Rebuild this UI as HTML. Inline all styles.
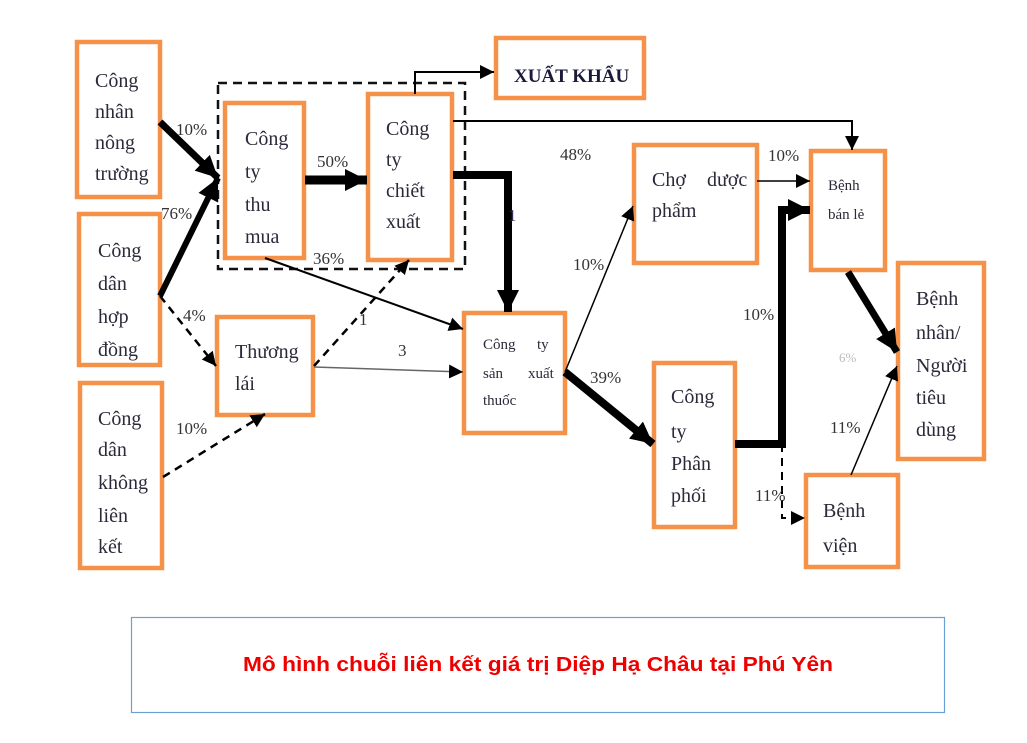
<!DOCTYPE html>
<html><head><meta charset="utf-8"><style>
html,body{margin:0;padding:0;background:#fff;}
svg{display:block;}
.t{font-family:"Liberation Serif",serif;font-size:20px;fill:#2a2a3a;}
.s{font-family:"Liberation Serif",serif;font-size:15px;fill:#2a2a3a;}
.p{font-family:"Liberation Serif",serif;font-size:17px;fill:#333;}
.b{fill:#fff;stroke:#f4924a;stroke-width:4.5;}
</style></head><body>
<svg width="1027" height="743" viewBox="0 0 1027 743" xmlns="http://www.w3.org/2000/svg">
<defs>
<marker id="a" markerUnits="userSpaceOnUse" markerWidth="20" markerHeight="20" refX="14" refY="7" orient="auto"><path d="M0,0 L14,7 L0,14 Z" fill="#000"/></marker>
<marker id="A" markerUnits="userSpaceOnUse" markerWidth="30" markerHeight="30" refX="22" refY="11" orient="auto"><path d="M0,0 L22,11 L0,22 Z" fill="#000"/></marker>
</defs>
<!-- dashed group -->
<rect x="218" y="83" width="247" height="186" fill="none" stroke="#111" stroke-width="2.5" stroke-dasharray="9,6"/>
<!-- boxes -->
<rect class="b" x="77" y="42" width="83" height="155"/>
<rect class="b" x="79" y="214" width="81" height="151"/>
<rect class="b" x="80" y="383" width="82" height="185"/>
<rect class="b" x="225" y="103" width="79" height="155"/>
<rect class="b" x="368" y="94" width="84" height="166"/>
<rect class="b" x="496" y="38" width="148" height="60"/>
<rect class="b" x="217" y="317" width="96" height="98"/>
<rect class="b" x="464" y="313" width="101" height="120"/>
<rect class="b" x="634" y="145" width="123" height="118"/>
<rect class="b" x="654" y="363" width="81" height="164"/>
<rect class="b" x="811" y="151" width="74" height="119"/>
<rect class="b" x="898" y="263" width="86" height="196"/>
<rect class="b" x="806" y="475" width="92" height="92"/>
<!-- connectors -->
<g fill="none" stroke="#000">
<line x1="160" y1="122" x2="218" y2="178" stroke-width="7" marker-end="url(#A)"/>
<line x1="160" y1="296" x2="218" y2="178" stroke-width="6" marker-end="url(#A)"/>
<line x1="160" y1="296" x2="216" y2="366" stroke-width="2.5" stroke-dasharray="8,6" marker-end="url(#a)"/>
<line x1="163" y1="477" x2="265" y2="414" stroke-width="2.5" stroke-dasharray="8,6" marker-end="url(#a)"/>
<line x1="305" y1="180" x2="367" y2="180" stroke-width="9" marker-end="url(#A)"/>
<line x1="265" y1="258" x2="463" y2="329" stroke-width="2" marker-end="url(#a)"/>
<line x1="314" y1="366" x2="409" y2="260" stroke-width="2.5" stroke-dasharray="8,6" marker-end="url(#a)"/>
<line x1="314" y1="367" x2="463" y2="372" stroke-width="1.5" stroke="#666" marker-end="url(#a)"/>
<polyline points="453,175 508,175 508,312" stroke-width="8" marker-end="url(#A)"/>
<polyline points="415,94 415,72 494,72" stroke-width="2" marker-end="url(#a)"/>
<polyline points="453,121 852,121 852,150" stroke-width="2" marker-end="url(#a)"/>
<line x1="565" y1="372" x2="633" y2="206" stroke-width="1.5" marker-end="url(#a)"/>
<line x1="565" y1="372" x2="653" y2="444" stroke-width="8" marker-end="url(#A)"/>
<polyline points="735,444 782,444 782,210 810,210" stroke-width="8" marker-end="url(#A)"/>
<polyline points="782,444 782,518 805,518" stroke-width="2" stroke-dasharray="8,6" marker-end="url(#a)"/>
<line x1="757" y1="181" x2="810" y2="181" stroke-width="1.5" marker-end="url(#a)"/>
<line x1="848" y1="272" x2="897" y2="352" stroke-width="7" marker-end="url(#A)"/>
<line x1="851" y1="475" x2="897" y2="366" stroke-width="1.5" marker-end="url(#a)"/>
</g>
<!-- box text -->
<g class="t">
<text x="95" y="87">Công</text><text x="95" y="118">nhân</text><text x="95" y="149">nông</text><text x="95" y="180">trường</text>
<text x="98" y="257">Công</text><text x="98" y="290">dân</text><text x="98" y="323">hợp</text><text x="98" y="356">đồng</text>
<text x="98" y="425">Công</text><text x="98" y="456">dân</text><text x="98" y="489">không</text><text x="98" y="522">liên</text><text x="98" y="553">kết</text>
<text x="245" y="145">Công</text><text x="245" y="178">ty</text><text x="245" y="211">thu</text><text x="245" y="243">mua</text>
<text x="386" y="135">Công</text><text x="386" y="166">ty</text><text x="386" y="197">chiết</text><text x="386" y="228">xuất</text>
<text x="235" y="358">Thương</text><text x="235" y="390">lái</text>
<text x="652" y="186">Chợ</text><text x="707" y="186">dược</text><text x="652" y="217">phẩm</text>
<text x="671" y="403">Công</text><text x="671" y="438">ty</text><text x="671" y="470">Phân</text><text x="671" y="502">phối</text>
<text x="916" y="305">Bệnh</text><text x="916" y="339">nhân/</text><text x="916" y="372">Người</text><text x="916" y="404">tiêu</text><text x="916" y="436">dùng</text>
<text x="823" y="517">Bệnh</text><text x="823" y="552">viện</text>
<text x="514" y="82" font-weight="bold" font-size="19" fill="#1a1a3a">XUẤT KHẨU</text>
</g>
<g class="s">
<text x="483" y="349">Công</text><text x="537" y="349">ty</text>
<text x="483" y="378">sản</text><text x="528" y="378">xuất</text>
<text x="483" y="405">thuốc</text>
<text x="828" y="190">Bệnh</text><text x="828" y="219">bán lẻ</text>
</g>
<!-- percent labels -->
<g class="p">
<text x="176" y="135">10%</text>
<text x="161" y="219">76%</text>
<text x="183" y="321">4%</text>
<text x="176" y="434">10%</text>
<text x="317" y="167">50%</text>
<text x="313" y="264">36%</text>
<text x="560" y="160">48%</text>
<text x="573" y="270">10%</text>
<text x="590" y="383">39%</text>
<text x="743" y="320">10%</text>
<text x="830" y="433">11%</text>
<text x="755" y="501">11%</text>
<text x="768" y="161">10%</text>
<text x="839" y="362" fill="#bbb" font-size="13">6%</text>
<text x="359" y="325">1</text>
<text x="398" y="356">3</text>
<text x="508" y="221" fill="#335">1</text>
</g>
<!-- caption -->
<rect x="131.5" y="617.5" width="813" height="95" fill="#fff" stroke="#6a9fd8" stroke-width="1.2"/>
<text x="538" y="671" text-anchor="middle" font-family="Liberation Sans, sans-serif" font-weight="bold" font-size="20" fill="#ee0000" textLength="590" lengthAdjust="spacingAndGlyphs">Mô hình chuỗi liên kết giá trị Diệp Hạ Châu tại Phú Yên</text>
</svg>
</body></html>
